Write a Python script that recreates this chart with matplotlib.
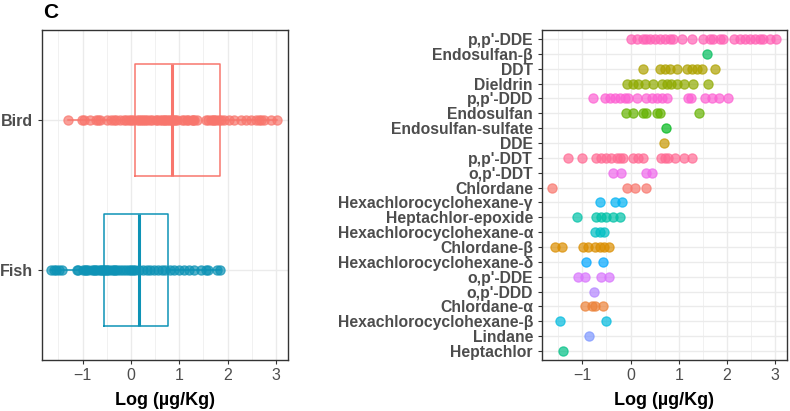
import numpy as np
import matplotlib
matplotlib.use("Agg")
from matplotlib import pyplot as plt

plt.rcParams['font.family'] = ['Liberation Sans', 'DejaVu Sans']

# ---- data ----
groups = ["Fish", "Bird"]
bird_vals = [-1.30, -1.02, -0.98, -0.85, -0.72, -0.68, -0.65, -0.50, -0.42, -0.35,
             -0.30, -0.22, -0.15, -0.10, -0.05, 0.00, 0.05, 0.12, 0.16, 0.20,
             0.26, 0.30, 0.33, 0.40, 0.44, 0.51, 0.54, 0.61, 0.64, 0.69,
             0.71, 0.75, 0.78, 0.82, 0.85, 0.89, 0.92, 0.96, 1.06, 1.10,
             1.17, 1.19, 1.26, 1.28, 1.30, 1.37, 1.55, 1.60, 1.65, 1.69,
             1.72, 1.76, 1.83, 1.86, 1.93, 2.03, 2.14, 2.28, 2.38, 2.49,
             2.59, 2.65, 2.69, 2.76, 2.90, 3.03]
fish_vals = [-1.65, -1.60, -1.55, -1.48, -1.42, -1.12, -1.09, -1.00, -0.95, -0.93,
             -0.88, -0.81, -0.76, -0.74, -0.71, -0.64, -0.61, -0.58, -0.56, -0.52,
             -0.50, -0.45, -0.40, -0.36, -0.33, -0.29, -0.22, -0.17, -0.10, -0.05,
             0.00, 0.05, 0.09, 0.16, 0.25, 0.33, 0.40, 0.47, 0.55, 0.64,
             0.70, 0.80, 0.90, 1.00, 1.10, 1.20, 1.30, 1.45, 1.55, 1.60,
             1.78, 1.85]
# box stats: q1, median, q3 per group (Fish, Bird)
box_q1 = [-0.55, 0.09]
box_med = [0.165, 0.85]
box_q3 = [0.76, 1.85]

compounds = ["p,p'-DDE", "Endosulfan-β", "DDT", "Dieldrin", "p,p'-DDD", "Endosulfan",
             "Endosulfan-sulfate", "DDE", "p,p'-DDT", "o,p'-DDT", "Chlordane",
             "Hexachlorocyclohexane-γ", "Heptachlor-epoxide", "Hexachlorocyclohexane-α",
             "Chlordane-β", "Hexachlorocyclohexane-δ", "o,p'-DDE", "o,p'-DDD",
             "Chlordane-α", "Hexachlorocyclohexane-β", "Lindane", "Heptachlor"]
values = [
    [0.0, 0.125, 0.26, 0.33, 0.40, 0.51, 0.61, 0.71, 0.82, 0.89, 1.06, 1.27, 1.51, 1.65,
     1.72, 1.86, 1.93, 2.14, 2.28, 2.38, 2.49, 2.59, 2.69, 2.76, 2.90, 3.03],
    [1.58],
    [0.25, 0.61, 0.71, 0.82, 0.96, 1.17, 1.27, 1.37, 1.48, 1.76],
    [-0.07, 0.056, 0.16, 0.30, 0.47, 0.645, 0.75, 0.85, 0.96, 1.10, 1.30, 1.60],
    [-0.79, -0.54, -0.43, -0.33, -0.22, -0.12, -0.05, 0.14, 0.33, 0.44, 0.54, 0.645,
     0.75, 1.19, 1.26, 1.55, 1.69, 1.83, 2.03],
    [-0.10, 0.056, 0.26, 0.33, 0.54, 0.61, 1.43],
    [0.735],
    [0.69],
    [-1.31, -1.0, -0.71, -0.61, -0.50, -0.40, -0.29, -0.22, -0.15, 0.05, 0.16, 0.26,
     0.64, 0.71, 0.78, 0.92, 1.10, 1.28],
    [-0.36, -0.20, 0.33, 0.44],
    [-1.64, -0.08, 0.09, 0.33],
    [-0.64, -0.33, -0.17],
    [-1.11, -0.71, -0.61, -0.50, -0.36, -0.22],
    [-0.74, -0.64, -0.56],
    [-1.56, -1.42, -0.99, -0.88, -0.74, -0.64, -0.56, -0.45],
    [-0.93, -0.57],
    [-1.09, -0.95, -0.61, -0.45],
    [-0.76],
    [-0.94, -0.81, -0.74, -0.58],
    [-1.46, -0.52],
    [-0.86],
    [-1.40],
]


def hcl_hex(h, c=100.0, l=65.0):
    hr = np.deg2rad(h)
    U, V = c * np.cos(hr), c * np.sin(hr)
    Xn, Yn, Zn = 95.047, 100.0, 108.883
    Y = Yn * ((l + 16) / 116) ** 3
    den = Xn + 15 * Yn + 3 * Zn
    u = U / (13 * l) + 4 * Xn / den
    v = V / (13 * l) + 9 * Yn / den
    X = 9 * Y * u / (4 * v)
    Z = -X / 3 - 5 * Y + 3 * Y / v
    M = np.array([[3.240479, -1.537150, -0.498535],
                  [-0.969256, 1.875992, 0.041556],
                  [0.055648, -0.204043, 1.057311]])
    lin = M @ (np.array([X, Y, Z]) / 100)
    rgb = np.where(lin <= 0.0031308, 12.92 * lin, 1.055 * np.abs(lin) ** (1 / 2.4) - 0.055)
    rgb = np.clip(rgb, 0, 1)
    return '#%02x%02x%02x' % tuple(int(round(x * 255)) for x in rgb)


# ggplot hue palette on alphabetical order of compounds
order = sorted(compounds, key=lambda s: [(1, ord(ch)) if ord(ch) > 900 else (0, ch.lower()) for ch in s])
hues = np.linspace(15, 375, len(order) + 1)[:-1]
pal = {name: hcl_hex(h) for name, h in zip(order, hues)}

bird_col = "#F8766D"
fish_col = "#0E93B6"
grid_col = "#EBEBEB"
txt_col = "#4D4D4D"

fig = plt.figure(figsize=(7.9, 4.11), dpi=100)
ax1 = fig.add_axes([42 / 790, 51 / 411, 246 / 790, 330 / 411])
ax2 = fig.add_axes([542 / 790, 51 / 411, 245 / 790, 330 / 411])


def style(ax):
    ax.set_xlim(-1.84, 3.25)
    ax.set_xticks([-1, 0, 1, 2, 3])
    ax.set_xticks([-1.5, -0.5, 0.5, 1.5, 2.5], minor=True)
    ax.grid(True, which='major', color=grid_col, lw=1.0, zorder=0)
    ax.grid(True, which='minor', axis='x', color=grid_col, lw=0.5, zorder=0)
    ax.set_axisbelow(True)
    for sp in ax.spines.values():
        sp.set_color('#333333')
        sp.set_linewidth(1.0)
    ax.tick_params(axis='both', which='major', length=3, width=0.8, color='#333333')
    ax.tick_params(axis='both', which='minor', length=0)
    ax.tick_params(axis='x', labelsize=11.5, labelcolor=txt_col, pad=3)
    ax.set_xlabel("Log (µg/Kg)", fontsize=13, fontweight='bold', labelpad=6)


# ---- left: boxplots with points ----
stats = []
for i, vals in enumerate([fish_vals, bird_vals]):
    stats.append(dict(med=box_med[i], q1=box_q1[i], q3=box_q3[i],
                      whislo=min(vals), whishi=max(vals), fliers=[]))
for i, (st, col) in enumerate(zip(stats, [fish_col, bird_col])):
    ax1.bxp([st], positions=[i + 1], widths=0.75, vert=False, showcaps=False,
            boxprops=dict(color=col, lw=1.1),
            whiskerprops=dict(color=col, lw=1.1),
            medianprops=dict(color=col, lw=2.2), zorder=2)
ax1.scatter(fish_vals, np.ones(len(fish_vals)), s=44, color=fish_col, alpha=0.7,
            edgecolors=fish_col, linewidths=0.9, zorder=3)
ax1.scatter(bird_vals, np.full(len(bird_vals), 2.0), s=44, color=bird_col, alpha=0.7,
            edgecolors=bird_col, linewidths=0.9, zorder=3)
ax1.set_ylim(0.4, 2.6)
ax1.set_yticks([1, 2])
ax1.set_yticklabels(groups, fontsize=11.5, fontweight='bold', color=txt_col)
style(ax1)
fig.text(43 / 790, 1 - 12 / 411, "C", fontsize=15, fontweight='bold', va='center')

# ---- right: dot plot per compound ----
n = len(compounds)
for i, (name, vals) in enumerate(zip(compounds, values)):
    y = n - i
    col = pal[name]
    ax2.scatter(vals, np.full(len(vals), y), s=44, color=col, alpha=0.7,
                edgecolors=col, linewidths=0.9, zorder=3)
ax2.set_ylim(0.4, n + 0.6)
ax2.set_yticks(np.arange(n, 0, -1))
ax2.set_yticklabels(compounds, fontsize=11.3, fontweight='bold', color=txt_col)
style(ax2)

fig.savefig("out.png", dpi=100)
